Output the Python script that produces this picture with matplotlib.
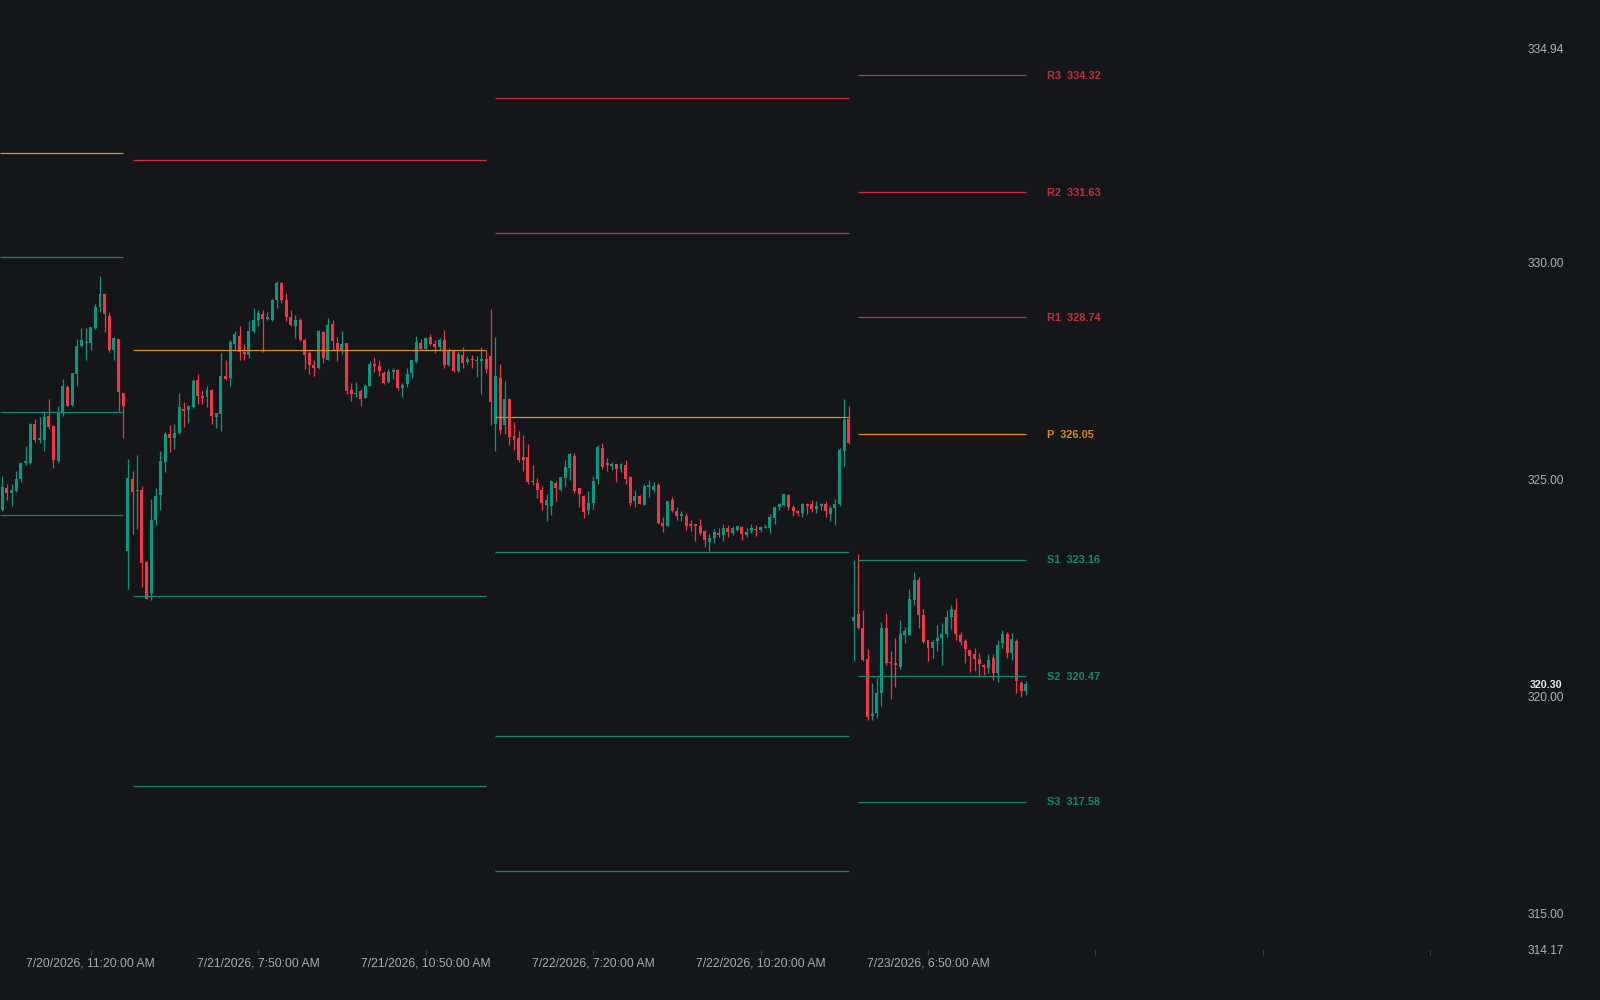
import matplotlib
matplotlib.use('Agg')
import matplotlib.pyplot as plt

plt.rcParams['font.family'] = ['Liberation Sans', 'DejaVu Sans']

# colours
bgColor = '#15161a'
upColor = '#089981'
downColor = '#f23645'
pivotColors = {'R': '#d0303d', 'P': '#e68a0c', 'S': '#0c8a72'}
labelColors = {'R': '#c42e3b', 'P': '#d98a12', 'S': '#0e8a6f'}

# sessions, 5 minute bars
sessionDates = ['7/20/2026', '7/21/2026', '7/22/2026', '7/23/2026']
sessionFirstBar = ['9:45', '5:30', '5:30', '5:30']
barMinutes = 5

# OHLC rows: open, high, low, close
day0 = [
    [324.31, 325.08, 324.28, 324.83], [324.81, 324.89, 324.54, 324.70], [324.70, 324.91, 324.39, 324.76],
    [324.73, 325.20, 324.72, 325.02], [325.01, 325.41, 324.95, 325.39], [325.39, 325.77, 325.33, 325.43],
    [325.39, 326.30, 325.37, 326.28], [326.28, 326.41, 325.88, 325.91], [325.91, 326.44, 325.85, 325.95],
    [325.91, 326.56, 325.66, 326.44], [326.47, 326.87, 326.16, 326.21], [326.24, 326.25, 325.28, 325.46],
    [325.42, 326.69, 325.41, 326.56], [326.56, 327.33, 326.47, 327.17], [327.13, 327.19, 326.69, 326.70],
    [326.73, 327.47, 326.71, 327.46], [327.44, 328.25, 327.16, 328.09], [328.09, 328.50, 328.06, 328.21],
    [328.15, 328.50, 327.75, 328.18], [328.15, 328.51, 327.99, 328.51], [328.49, 329.05, 328.47, 328.98],
    [328.98, 329.70, 328.86, 329.27], [329.28, 329.31, 328.40, 328.81], [328.78, 328.86, 327.94, 327.99],
    [328.00, 328.28, 327.76, 328.27], [328.25, 328.25, 326.58, 327.02], [327.01, 327.01, 325.97, 326.69],
]
day1 = [
    [323.36, 325.48, 322.47, 325.04], [325.02, 325.19, 323.74, 324.72], [324.74, 325.56, 323.87, 324.77],
    [324.77, 324.86, 322.53, 323.08], [323.11, 323.12, 322.24, 322.26], [322.38, 324.55, 322.22, 324.07],
    [324.07, 324.81, 323.95, 324.63], [324.64, 325.65, 324.31, 325.42], [325.41, 326.11, 325.18, 326.06],
    [326.05, 326.27, 325.64, 325.96], [325.97, 326.29, 325.70, 326.08], [326.08, 327.01, 326.06, 326.67],
    [326.64, 326.80, 326.21, 326.58], [326.60, 326.73, 326.31, 326.70], [326.67, 327.32, 326.66, 327.27],
    [327.29, 327.43, 326.75, 326.92], [326.93, 327.06, 326.75, 326.89], [326.90, 327.17, 326.67, 327.06],
    [327.07, 327.10, 326.29, 326.47], [326.45, 326.53, 326.19, 326.53], [326.52, 327.93, 326.12, 327.38],
    [327.39, 327.75, 327.29, 327.33], [327.34, 328.21, 327.17, 328.17], [328.12, 328.42, 327.96, 328.35],
    [328.32, 328.54, 327.75, 327.94], [327.94, 328.12, 327.75, 327.89], [327.88, 328.65, 327.81, 328.42],
    [328.42, 328.95, 328.38, 328.69], [328.67, 328.91, 328.55, 328.84], [328.83, 328.91, 327.94, 328.71],
    [328.70, 328.86, 328.67, 328.74], [328.69, 329.17, 328.65, 329.15], [329.14, 329.57, 328.95, 329.54],
    [329.54, 329.55, 329.07, 329.14], [329.15, 329.31, 328.65, 328.75], [328.76, 328.91, 328.54, 328.57],
    [328.55, 328.80, 328.26, 328.68], [328.69, 328.72, 328.19, 328.21], [328.21, 328.27, 327.56, 327.88],
    [327.92, 327.96, 327.43, 327.65], [327.64, 327.76, 327.39, 327.58], [327.58, 328.45, 327.56, 328.42],
    [328.41, 328.42, 327.69, 327.80], [327.77, 328.72, 327.75, 328.57], [328.58, 328.68, 327.99, 328.19],
    [328.16, 328.30, 327.73, 327.96], [327.99, 328.43, 327.90, 328.12], [328.16, 328.16, 326.98, 327.04],
    [327.06, 327.23, 326.81, 326.98], [326.98, 327.26, 326.90, 327.01], [327.04, 327.08, 326.69, 326.87],
    [326.89, 327.20, 326.88, 327.17], [327.17, 327.73, 327.15, 327.67], [327.67, 327.82, 327.48, 327.63],
    [327.61, 327.75, 327.38, 327.50], [327.47, 327.50, 327.20, 327.24], [327.25, 327.56, 327.23, 327.48],
    [327.48, 327.58, 327.33, 327.54], [327.54, 327.56, 327.07, 327.11], [327.11, 327.23, 326.90, 327.19],
    [327.20, 327.58, 327.13, 327.44], [327.46, 327.75, 327.35, 327.75], [327.71, 328.32, 327.69, 328.17],
    [328.16, 328.24, 327.99, 328.02], [328.02, 328.30, 328.00, 328.27], [328.29, 328.35, 328.10, 328.13],
    [328.13, 328.21, 327.92, 328.07], [328.07, 328.27, 327.98, 328.22], [328.21, 328.44, 327.58, 327.65],
    [327.65, 328.03, 327.63, 327.96], [327.96, 327.99, 327.49, 327.51], [327.51, 327.96, 327.48, 327.89],
    [327.88, 328.07, 327.58, 327.69], [327.71, 327.86, 327.67, 327.78], [327.79, 327.87, 327.58, 327.75],
    [327.73, 327.86, 327.36, 327.76], [327.73, 328.07, 326.97, 327.79], [327.79, 327.99, 327.46, 327.56],
]
day2 = [
    [327.85, 328.94, 326.25, 326.79], [326.29, 328.30, 325.66, 327.40], [327.35, 327.66, 326.06, 326.14],
    [326.25, 327.27, 326.05, 326.87], [326.87, 326.88, 325.79, 325.98], [326.01, 326.32, 325.69, 325.91],
    [325.95, 326.12, 325.40, 325.46], [325.52, 326.02, 325.19, 325.46], [325.52, 325.82, 324.89, 324.95],
    [324.97, 325.33, 324.87, 324.95], [324.93, 325.03, 324.58, 324.76], [324.76, 324.86, 324.30, 324.47],
    [324.41, 324.67, 324.05, 324.54], [324.40, 324.99, 324.18, 324.98], [324.93, 324.97, 324.51, 324.82],
    [324.77, 325.07, 324.75, 325.06], [325.04, 325.45, 324.83, 325.29], [325.28, 325.61, 325.00, 325.59],
    [325.55, 325.62, 324.70, 324.74], [324.80, 324.82, 324.36, 324.66], [324.63, 324.65, 324.12, 324.26],
    [324.30, 324.73, 324.22, 324.47], [324.47, 325.08, 324.32, 324.98], [325.01, 325.79, 324.91, 325.75],
    [325.72, 325.85, 325.25, 325.29], [325.38, 325.49, 325.20, 325.33], [325.32, 325.41, 325.22, 325.36],
    [325.36, 325.36, 324.95, 325.24], [325.24, 325.39, 325.18, 325.37], [325.34, 325.46, 324.91, 325.02],
    [325.06, 325.08, 324.40, 324.47], [324.50, 324.77, 324.36, 324.63], [324.63, 324.64, 324.43, 324.45],
    [324.42, 324.90, 324.41, 324.86], [324.83, 324.99, 324.60, 324.87], [324.76, 324.94, 324.72, 324.86],
    [324.87, 324.93, 323.99, 324.01], [324.01, 324.13, 323.80, 323.94], [323.93, 324.51, 323.93, 324.50],
    [324.53, 324.60, 324.26, 324.28], [324.27, 324.37, 324.07, 324.17], [324.16, 324.27, 324.05, 324.20],
    [324.17, 324.23, 323.84, 323.94], [323.97, 324.07, 323.81, 323.94], [323.97, 323.97, 323.58, 323.93],
    [323.93, 324.10, 323.72, 323.78], [323.82, 323.84, 323.45, 323.61], [323.57, 323.74, 323.36, 323.66],
    [323.66, 323.86, 323.53, 323.80], [323.76, 323.89, 323.68, 323.72], [323.72, 323.98, 323.59, 323.89],
    [323.88, 323.95, 323.68, 323.79], [323.77, 323.93, 323.72, 323.89], [323.85, 323.94, 323.82, 323.93],
    [323.91, 323.94, 323.60, 323.74], [323.72, 323.89, 323.68, 323.80], [323.81, 323.99, 323.76, 323.89],
    [323.87, 323.95, 323.70, 323.84], [323.84, 323.94, 323.80, 323.91], [323.89, 323.97, 323.89, 323.91],
    [323.89, 324.20, 323.77, 324.14], [324.12, 324.37, 323.99, 324.37], [324.36, 324.47, 324.30, 324.45],
    [324.41, 324.66, 324.39, 324.66], [324.64, 324.66, 324.31, 324.37], [324.36, 324.41, 324.17, 324.28],
    [324.28, 324.31, 324.17, 324.24], [324.23, 324.47, 324.14, 324.43], [324.43, 324.47, 324.20, 324.40],
    [324.43, 324.54, 324.26, 324.32], [324.32, 324.50, 324.23, 324.40], [324.39, 324.47, 324.31, 324.43],
    [324.43, 324.51, 324.13, 324.27], [324.22, 324.39, 324.05, 324.35], [324.35, 324.56, 323.95, 324.43],
    [324.43, 325.72, 324.39, 325.69], [325.66, 326.87, 325.31, 326.37], [326.39, 326.69, 325.82, 325.85],
]
day3 = [
    [321.75, 323.16, 320.81, 321.83], [321.90, 323.29, 321.55, 321.59], [321.57, 322.00, 320.82, 320.85],
    [320.87, 321.09, 319.46, 319.54], [319.56, 320.31, 319.46, 319.60], [319.62, 320.44, 319.50, 320.08],
    [320.09, 321.72, 319.79, 321.59], [321.57, 321.92, 320.72, 320.78], [320.80, 321.04, 319.94, 320.77],
    [320.78, 321.34, 320.23, 320.73], [320.69, 321.77, 320.63, 321.44], [321.42, 321.61, 321.23, 321.51],
    [321.42, 322.49, 321.42, 322.25], [322.23, 322.88, 322.11, 322.69], [322.69, 322.76, 321.57, 321.88],
    [321.88, 322.01, 321.23, 321.25], [321.31, 321.31, 320.83, 321.11], [321.11, 321.31, 320.90, 321.27],
    [321.28, 321.64, 321.04, 321.36], [321.34, 321.70, 320.72, 321.44], [321.44, 322.00, 321.38, 321.84],
    [321.84, 322.11, 321.55, 322.01], [322.00, 322.27, 321.31, 321.44], [321.42, 321.50, 321.18, 321.25],
    [321.28, 321.32, 320.77, 321.09], [321.08, 321.08, 320.56, 320.94], [320.98, 321.11, 320.58, 320.87],
    [320.87, 321.01, 320.45, 320.75], [320.73, 320.75, 320.49, 320.69], [320.65, 320.98, 320.55, 320.85],
    [320.88, 320.98, 320.39, 320.54], [320.54, 321.31, 320.33, 321.19], [321.23, 321.54, 321.13, 321.44],
    [321.44, 321.49, 320.90, 321.01], [321.00, 321.46, 320.85, 321.32], [321.28, 321.32, 320.09, 320.35],
    [320.31, 320.36, 320.00, 320.12], [320.12, 320.35, 320.04, 320.30],
]
sessions = [day0, day1, day2, day3]

# daily floor pivots for each session
pivotNames = ['R3', 'R2', 'R1', 'P', 'S1', 'S2', 'S3']
pivotLevels = [
    [342.08, 338.51, 336.11, 332.54, 330.14, 326.57, 324.18],
    [342.42, 338.05, 332.37, 328.00, 322.32, 317.95, 312.27],
    [338.03, 333.80, 330.68, 326.45, 323.33, 319.10, 315.98],
    [334.32, 331.63, 328.74, 326.05, 323.16, 320.47, 317.58],
]

# axis labels
xTickLabels = [('7/20/2026', '11:20'), ('7/21/2026', '7:50'), ('7/21/2026', '10:50'),
               ('7/22/2026', '7:20'), ('7/22/2026', '10:20'), ('7/23/2026', '6:50')]
extraTicks = 3
priceLabels = [314.17, 315.00, 320.00, 325.00, 330.00, 334.94]
priceRange = (314.17, 334.94)
barsVisible = (-0.5, 324.2)


def to_minutes(t):
    h, m = t.split(':')
    return int(h) * 60 + int(m)


# global bar index of the first bar of every session
sessionStart = []
n = 0
for s in sessions:
    sessionStart.append(n)
    n += len(s)

fig = plt.figure(figsize=(16, 10), dpi=100, facecolor=bgColor)
ax = fig.add_axes([0, 0.0505, 0.944, 0.901], facecolor=bgColor)
for sp in ax.spines.values():
    sp.set_visible(False)

bodyWidth = 0.64
for si, s in enumerate(sessions):
    for k, (o, h, l, c) in enumerate(s):
        x = sessionStart[si] + k
        col = upColor if c >= o else downColor
        ax.vlines(x, l, h, color=col, linewidth=0.9, zorder=2)
        ax.bar(x, max(abs(c - o), 0.02), bottom=min(o, c), width=bodyWidth, color=col,
               linewidth=0, zorder=3)

# pivot lines, one segment per session
for si, s in enumerate(sessions):
    x0 = barsVisible[0] if si == 0 else sessionStart[si] + 1
    x1 = sessionStart[si] + len(s) - 1
    for name, lvl in zip(pivotNames, pivotLevels[si]):
        ax.hlines(lvl, x0, x1, color=pivotColors[name[0]], linewidth=0.9, zorder=4)
        if si == len(sessions) - 1:
            ax.annotate(f'{name}  {lvl:.2f}', (x1, lvl), xytext=(15.2, -0.6), textcoords='offset points',
                        ha='left', va='center', fontsize=7.9, fontweight='bold',
                        color=labelColors[name[0]], annotation_clip=False)

ax.set_xlim(*barsVisible)
ax.set_ylim(*priceRange)

# time axis
tickPos = []
for d, t in xTickLabels:
    si = sessionDates.index(d)
    tickPos.append(sessionStart[si] + (to_minutes(t) - to_minutes(sessionFirstBar[si])) // barMinutes)
step = tickPos[-1] - tickPos[-2]
allTicks = tickPos + [tickPos[-1] + step * (i + 1) for i in range(extraTicks)]
ax.set_xticks(allTicks)
ax.set_xticklabels([f'{d}, {t}:00 AM' for d, t in xTickLabels] + [''] * extraTicks)
ax.tick_params(axis='x', length=3.5, width=0.8, color='#3a3d45', labelcolor='#a7aab3',
               labelsize=8.7, pad=2.2)
ax.set_yticks([])

# price axis, labels sit right of the plot area
xRight = barsVisible[1] + 7.6
for p in priceLabels:
    ax.annotate(f'{p:.2f}', (xRight, p), xytext=(0, -1.1), textcoords='offset points',
                ha='center', va='center', fontsize=8.6, color='#aeb1ba', annotation_clip=False)
lastClose = sessions[-1][-1][3]
ax.annotate(f'{lastClose:.2f}', (xRight, lastClose), xytext=(0, -1.1), textcoords='offset points',
            ha='center', va='center', fontsize=7.7, fontweight='bold', color='#e6e8ee',
            annotation_clip=False)

fig.savefig('out.png', dpi=100, facecolor=bgColor)
